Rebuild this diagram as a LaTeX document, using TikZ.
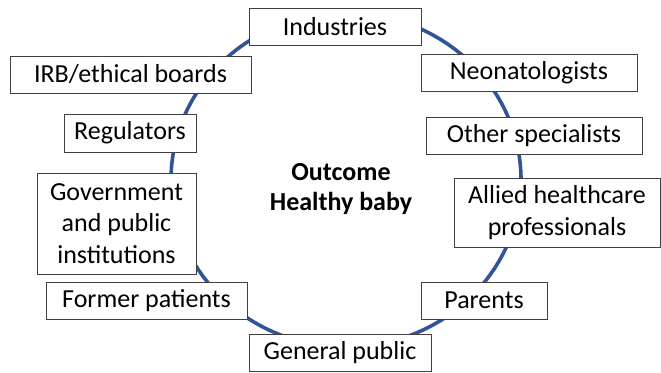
\documentclass[tikz,border=0pt]{standalone}
\usepackage{fontspec}
\setmainfont{Carlito}
\begin{document}
\begin{tikzpicture}[x=1pt,y=-1pt,
  box/.style={draw=black!75, line width=1pt, fill=white, inner sep=0pt, align=center,
    font=\fontsize{26}{31.5}\selectfont},
  ring/.style={draw={rgb,255:red,47;green,85;blue,151}, line width=3.6pt}]
\useasboundingbox (0,0) rectangle (661,372);
\draw[ring] (346,180) ellipse [x radius=175, y radius=167];
\node[box, minimum width=172pt, minimum height=37pt] (ind) at (335,26.5) {Industries};
\node[box, minimum width=241pt, minimum height=37pt] (irb) at (130.5,74.5) {IRB/ethical boards};
\node[box, minimum width=132pt, minimum height=38pt] (reg) at (130,133) {Regulators};
\node[box, minimum width=216pt, minimum height=37pt] (neo) at (529,72.5) {Neonatologists};
\node[box, minimum width=216pt, minimum height=37pt] (oth) at (534,135.5) {Other specialists};
\node[box, minimum width=206pt, minimum height=69pt] (all) at (557,212.5) {Allied healthcare\\professionals};
\node[box, minimum width=159pt, minimum height=101pt] (gov) at (116.5,223.5) {Government\\and public\\institutions};
\node[box, minimum width=201pt, minimum height=37pt] (fp) at (146.5,300.5) {Former patients};
\node[box, minimum width=182pt, minimum height=37pt] (gp) at (340,352.5) {General public};
\node[box, minimum width=126pt, minimum height=37pt] (par) at (484,300.5) {Parents};
\node[font=\fontsize{26}{30}\selectfont\bfseries, align=center, inner sep=0pt] (out) at (341,189) {Outcome\\Healthy baby};
\end{tikzpicture}
\end{document}
